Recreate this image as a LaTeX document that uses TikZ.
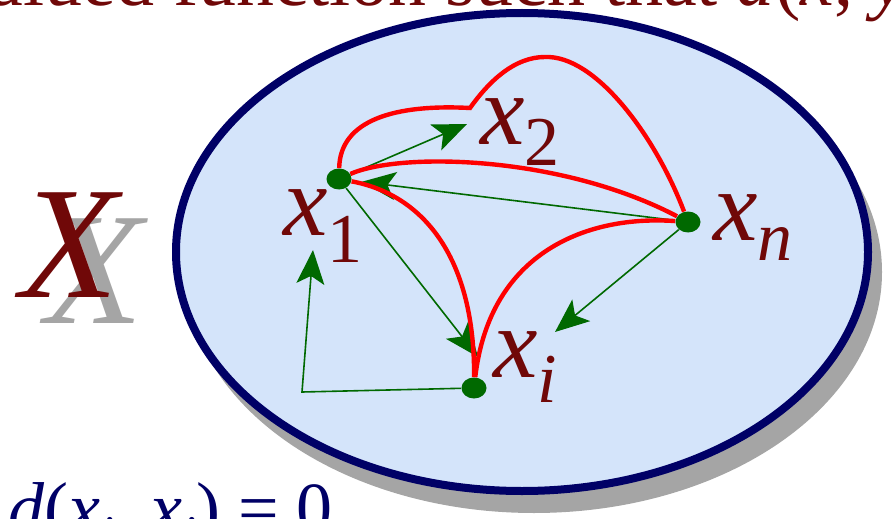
\documentclass[tikz,border=0pt]{standalone}
\usepackage{fontspec}
\setmainfont{Liberation Serif}
\usetikzlibrary{arrows.meta,shapes.geometric}
\definecolor{navyb}{RGB}{0,0,102}
\definecolor{skyfill}{RGB}{212,228,250}
\definecolor{shadowg}{RGB}{165,165,165}
\definecolor{darkred}{RGB}{112,8,8}
\definecolor{dgreen}{RGB}{0,105,0}
\definecolor{bred}{RGB}{255,0,0}
\begin{document}
\begin{tikzpicture}[x=0.5pt,y=-0.5pt,
  dotnode/.style={ellipse, fill=dgreen, inner sep=0, minimum width=12.5pt, minimum height=10.5pt},
  garrow/.style={draw=dgreen, line width=0.8pt, -{Stealth[length=17pt,width=14pt,inset=4pt]}},
  rcurve/.style={draw=bred, line width=2.2pt},
  lbl/.style={text=darkred, anchor=base west, inner sep=0, font=\fontsize{50}{50}\selectfont\itshape},
  bigx/.style={anchor=base west, inner sep=0, font=\fontsize{80}{80}\selectfont\itshape}
  ]
\useasboundingbox (0,0) rectangle (894,519);
\clip (0,0) rectangle (894,519);

% top (cut) text
\node[text=darkred, anchor=base west, inner sep=0, font=\fontsize{38}{38}\selectfont] (top) at (173,6)
  {\llap{real-valued }function such that \textit{d}(\textit{x}, \textit{y})};

% set X
\fill[shadowg] (534,272) ellipse [x radius=348, y radius=241];
\filldraw[fill=skyfill, draw=navyb, line width=4pt] (522,252) ellipse [x radius=346, y radius=239];

\node[bigx, text=shadowg] (Xs) at (45,323) {X};
\node[bigx, text=darkred] (X) at (20,297) {X};

% points
\node[dotnode] (n1) at (339,179) {};
\node[dotnode] (nn) at (688,222) {};
\node[dotnode] (ni) at (474,388) {};
\coordinate (t2) at (467,124);
\coordinate (ti) at (478,357);
\coordinate (tn) at (555,332);
\coordinate (elb) at (302,392);
\coordinate (t1) at (313,250);
\coordinate (bump) at (470,108);
\coordinate (peak) at (545,57);

% green arrows
\draw[garrow] (n1) -- (t2);
\draw[garrow, shorten >=5pt] (nn) -- (n1);
\draw[garrow] (n1) -- (ti);
\draw[garrow] (nn) -- (tn);
\draw[garrow] (ni) -- (elb) -- (t1);

% red curves
\draw[rcurve] (n1) .. controls (340,120) and (395,104) .. (bump)
  .. controls (490,80) and (515,57) .. (peak)
  .. controls (595,55) and (655,135) .. (nn);
\draw[rcurve] (n1) .. controls (400,152) and (560,155) .. (nn);
\draw[rcurve] (n1) .. controls (425,195) and (475,260) .. (ni);
\draw[rcurve] (nn) .. controls (590,215) and (490,250) .. (ni);

% labels
\node[lbl] (l1) at (283,235) {x\raisebox{-13.5pt}{\upshape\fontsize{35}{35}\selectfont 1}};
\node[lbl] (l2) at (480,145) {x\raisebox{-10pt}{\upshape\fontsize{35}{35}\selectfont 2}};
\node[lbl] (ln) at (713,240) {x\raisebox{-10pt}{\fontsize{35}{35}\selectfont n}};
\node[lbl] (li) at (493,377) {x\raisebox{-12.5pt}{\fontsize{35}{35}\selectfont i}};

% bottom (cut) text
\node[text=navyb, anchor=base west, inner sep=0, font=\fontsize{36}{36}\selectfont] (bot) at (8,532)
  {\textit{d}(\textit{x}\raisebox{-9pt}{\fontsize{25}{25}\selectfont\textit{i}}, \textit{x}\raisebox{-9pt}{\fontsize{25}{25}\selectfont\textit{i}}) = 0};
\end{tikzpicture}
\end{document}
